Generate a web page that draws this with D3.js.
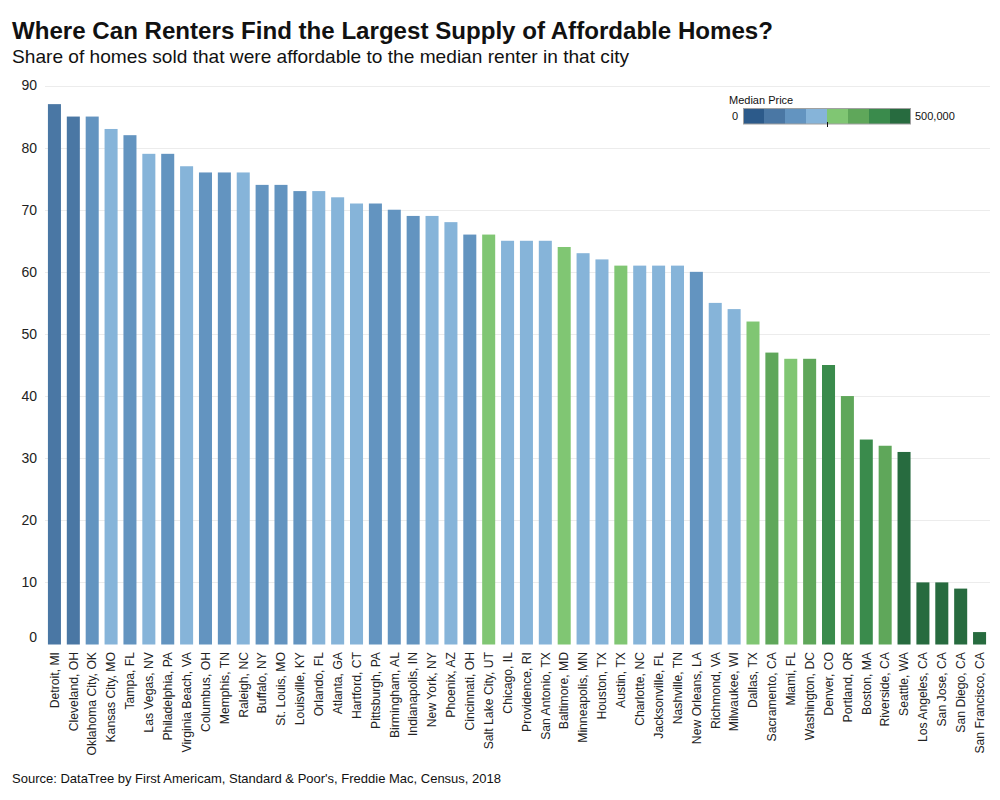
<!DOCTYPE html>
<html>
<head>
<meta charset="utf-8">
<script src="https://cdn.jsdelivr.net/npm/d3@7"></script>
<style>
  body { margin: 0; background: #fff; }
  svg text { font-family: "Liberation Sans", Arial, sans-serif; }
</style>
</head>
<body>
<svg id="chart" width="1000" height="800"></svg>
<script>
const cities = ["Detroit, MI","Cleveland, OH","Oklahoma City, OK","Kansas City, MO","Tampa, FL","Las Vegas, NV","Philadelphia, PA","Virginia Beach, VA","Columbus, OH","Memphis, TN","Raleigh, NC","Buffalo, NY","St. Louis, MO","Louisville, KY","Orlando, FL","Atlanta, GA","Hartford, CT","Pittsburgh, PA","Birmingham, AL","Indianapolis, IN","New York, NY","Phoenix, AZ","Cincinnati, OH","Salt Lake City, UT","Chicago, IL","Providence, RI","San Antonio, TX","Baltimore, MD","Minneapolis, MN","Houston, TX","Austin, TX","Charlotte, NC","Jacksonville, FL","Nashville, TN","New Orleans, LA","Richmond, VA","Milwaukee, WI","Dallas, TX","Sacramento, CA","Miami, FL","Washington, DC","Denver, CO","Portland, OR","Boston, MA","Riverside, CA","Seattle, WA","Los Angeles, CA","San Jose, CA","San Diego, CA","San Francisco, CA"];
const shareAffordable = [87,85,85,83,82,79,79,77,76,76,76,74,74,73,73,72,71,71,70,69,69,68,66,66,65,65,65,64,63,62,61,61,61,61,60,55,54,52,47,46,46,45,40,33,32,31,10,10,9,2];
// median price bucket (0..7) of the 8-step legend
const priceBin = [1,1,2,3,2,3,2,3,2,2,3,2,2,2,3,3,3,2,2,2,3,3,2,4,3,3,3,4,3,3,4,3,3,3,2,3,3,4,5,4,5,6,5,6,5,7,7,7,7,7];
const legendColors = ["#2c5a8a","#4a77a4","#6394c0","#86b4d9","#80c673","#5fa75a","#3a8b4c","#276b3f"];
const yTicks = [0,10,20,30,40,50,60,70,80,90];
const legendLabels = ["0","500,000"];

const data = cities.map((c,i)=>({city:c, value:shareAffordable[i], bin:priceBin[i]}));
const svg = d3.select("#chart");

const x = d3.scaleBand().domain(cities).range([45, 989]).paddingInner(0.31).paddingOuter(0.155);
const y = d3.scaleLinear().domain([0, 90]).range([644.5, 85.5]);
const color = d3.scaleOrdinal().domain(d3.range(8)).range(legendColors);

// gridlines
svg.append("g").selectAll("line").data(yTicks.filter(t=>t>0)).join("line")
  .attr("x1", 45).attr("x2", 990)
  .attr("y1", d=>Math.round(y(d))+0.5).attr("y2", d=>Math.round(y(d))+0.5)
  .attr("stroke", "#ececec").attr("stroke-width", 1);

// y axis labels
const yAxis = svg.append("g").attr("transform","translate(37,0)")
  .call(d3.axisLeft(y).tickValues(yTicks).tickSize(0).tickPadding(0));
yAxis.select(".domain").remove();
yAxis.selectAll("text").attr("font-size", 14).attr("fill", "#222")
  .style("font-family", '"Liberation Sans", Arial, sans-serif');
yAxis.selectAll(".tick").filter(d=>d===0).select("text").attr("dy", "-0.25em");

// bars
svg.append("g").selectAll("rect").data(data).join("rect")
  .attr("x", d=>x(d.city)).attr("width", x.bandwidth())
  .attr("y", d=>y(d.value)).attr("height", d=>y(0)-y(d.value))
  .attr("fill", d=>color(d.bin));

// x axis labels
const xAxis = svg.append("g").attr("transform", "translate(0,652)")
  .call(d3.axisBottom(x).tickSize(0).tickPadding(0));
xAxis.select(".domain").remove();
xAxis.selectAll("text")
  .attr("font-size", 12.2).attr("fill", "#222")
  .style("font-family", '"Liberation Sans", Arial, sans-serif')
  .attr("text-anchor", "end")
  .attr("transform", "rotate(-90)")
  .attr("x", 0).attr("y", 0).attr("dx", 0).attr("dy", "0.35em");

// title & subtitle
svg.append("text").attr("x", 12).attr("y", 39).attr("font-size", 23).attr("font-weight", "bold")
  .attr("fill", "#111").attr("textLength", 761).attr("lengthAdjust", "spacingAndGlyphs")
  .text("Where Can Renters Find the Largest Supply of Affordable Homes?");
svg.append("text").attr("x", 12).attr("y", 63).attr("font-size", 19).attr("fill", "#111")
  .attr("textLength", 617).attr("lengthAdjust", "spacingAndGlyphs")
  .text("Share of homes sold that were affordable to the median renter in that city");

// source
svg.append("text").attr("x", 12).attr("y", 783).attr("font-size", 13).attr("fill", "#111")
  .text("Source: DataTree by First Americam, Standard & Poor's, Freddie Mac, Census, 2018");

// legend
const lg = svg.append("g");
const lx = d3.scaleBand().domain(d3.range(8)).range([743, 911]);
lg.append("text").attr("x", 729).attr("y", 104).attr("font-size", 11).attr("fill", "#111").text("Median Price");
lg.selectAll("rect.sw").data(d3.range(8)).join("rect").attr("class","sw")
  .attr("x", d=>lx(d)).attr("width", lx.bandwidth()).attr("y", 109).attr("height", 15)
  .attr("fill", d=>legendColors[d]);
lg.append("rect").attr("x", 743.5).attr("y", 108.5).attr("width", 167).attr("height", 15.5)
  .attr("fill", "none").attr("stroke", "#a0a0a0").attr("stroke-width", 1);
lg.append("line").attr("x1", 827.5).attr("x2", 827.5).attr("y1", 122).attr("y2", 127).attr("stroke", "#111");
lg.append("text").attr("x", 738).attr("y", 120).attr("font-size", 11).attr("text-anchor","end").attr("fill","#111").text(legendLabels[0]);
lg.append("text").attr("x", 915).attr("y", 120).attr("font-size", 11).attr("fill","#111").text(legendLabels[1]);
</script>
</body>
</html>
